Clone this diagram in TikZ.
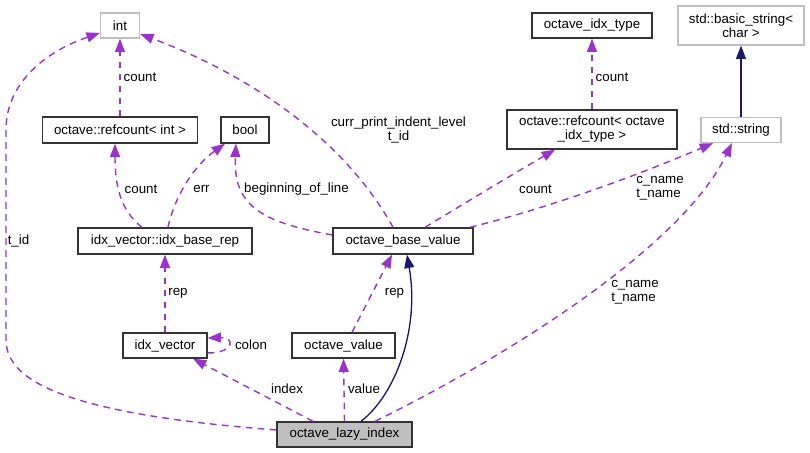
\documentclass[tikz,border=0pt]{standalone}
\usepackage{fontspec}
\setmainfont{Liberation Sans}
\usetikzlibrary{arrows.meta}
\definecolor{purp}{HTML}{9A32CD}
\definecolor{navy}{HTML}{191970}
\definecolor{lgray}{HTML}{BFBFBF}
\begin{document}
\begin{tikzpicture}[x=0.75pt,y=-0.75pt,
  font=\fontsize{10}{10.5}\selectfont,
  sz/.style 2 args={minimum width=#1*0.75pt, minimum height=#2*0.75pt, inner sep=0pt, align=center},
  box/.style={draw=black!80, line width=1pt},
  gbox/.style={draw=lgray, line width=1pt},
  lazybox/.style={draw=black!80, fill=lgray, line width=1pt},
  pe/.style={draw=purp, line width=1.05pt, dash pattern=on 5pt off 4pt, -{Triangle[length=10pt,width=7.5pt]}},
  ne/.style={draw=navy, line width=1pt, -{Triangle[length=10pt,width=7.5pt]}},
  lab/.style={inner sep=0pt, align=center},
  labl/.style={inner sep=0pt, align=left}]
\path[use as bounding box] (0,0) rectangle (810,453);

% nodes
\node[gbox, sz={39}{25}] (int) at (120,25.5) {int};
\node[box, sz={155}{26}] (refint) at (120,130) {octave::refcount< int >};
\node[box, sz={48}{26}] (bool) at (245,130) {bool};
\node[box, sz={120}{25}] (idxtype) at (592,25.5) {octave\_idx\_type};
\node[gbox, sz={126}{39}] (bstr) at (741,25.5) {std::basic\_string<\\char >};
\node[box, sz={170}{39}] (refidx) at (592,129.5) {octave::refcount< octave\\\_idx\_type >};
\node[gbox, sz={80}{25}] (str) at (741,130) {std::string};
\node[box, sz={174}{26}] (baserep) at (165,241) {idx\_vector::idx\_base\_rep};
\node[box, sz={140}{26}] (base) at (403,241) {octave\_base\_value};
\node[box, sz={84}{25}] (idxvec) at (165,345.5) {idx\_vector};
\node[box, sz={103}{25}] (oval) at (343.5,345.5) {octave\_value};
\node[lazybox, sz={135}{25}] (lazy) at (344.5,434.5) {octave\_lazy\_index};

% edges
\draw[pe] (refint.north) -- (int.south);
\draw[pe] ([yshift=3.4pt]lazy.west) .. controls (80,415) and (6,385) .. (6,340)
   -- (6,130) .. controls (6,80) and (50,50) .. ([yshift=-5.6pt]int.west);
\draw[pe] ([xshift=-7.5pt]base.north) .. controls (345,140) and (250,75) .. ([yshift=-6.4pt]int.east);
\draw[pe] ([xshift=-17.25pt]baserep.north) .. controls (120,210) and (115,185) .. ([xshift=-3.75pt]refint.south);
\draw[pe] ([xshift=2.25pt]baserep.north) .. controls (175,195) and (195,165) .. ([xshift=-15pt]bool.south);
\draw[pe] ([yshift=4.5pt]base.west) .. controls (260,222) and (233,205) .. ([xshift=-6.75pt]bool.south);
\draw[pe] ([xshift=16.5pt]base.north) .. controls (470,200) and (520,170) .. ([xshift=-27.75pt]refidx.south);
\draw[pe] ([xshift=50.25pt]base.north) .. controls (560,205) and (650,170) .. ([xshift=-21pt]str.south);
\draw[pe] (refidx.north) -- (idxtype.south);
\draw[ne] (str.north) -- (bstr.south);
\draw[pe] ([xshift=22.9pt]lazy.north) .. controls (500,360) and (680,250) .. ([xshift=-6.75pt]str.south);
\draw[pe] (idxvec.north) -- (baserep.south);
\draw[pe] ([yshift=-5.6pt]idxvec.east) .. controls (235,353) and (235,337) .. ([yshift=5.6pt]idxvec.east);
\draw[pe] ([xshift=6.4pt]oval.north) -- ([xshift=-8.25pt]base.south);
\draw[ne] ([xshift=12.4pt]lazy.north) .. controls (395,395) and (420,330) .. ([xshift=3pt]base.south);
\draw[pe] ([xshift=-23.6pt]lazy.north) -- ([xshift=21pt]idxvec.south);
\draw[pe] (lazy.north) -- (oval.south);

% labels
\node[lab] (l1) at (140,77) {count};
\node[lab] (l2) at (18.5,241) {t\_id};
\node[lab] (l3) at (398.5,129.5) {curr\_print\_indent\_level\\t\_id};
\node[lab] (l4) at (141,189) {count};
\node[lab] (l5) at (201.5,189) {err};
\node[lab] (l6) at (296.5,189) {beginning\_of\_line};
\node[lab] (l7) at (535.5,189) {count};
\node[labl] (l8) at (660,188) {c\_name\\t\_name};
\node[lab] (l9) at (612,77) {count};
\node[labl] (l10) at (635,292) {c\_name\\t\_name};
\node[lab] (l11) at (178,293) {rep};
\node[lab] (l12) at (251,345) {colon};
\node[lab] (l13) at (394.5,293) {rep};
\node[lab] (l14) at (287,389) {index};
\node[lab] (l15) at (364,389) {value};
\end{tikzpicture}
\end{document}
